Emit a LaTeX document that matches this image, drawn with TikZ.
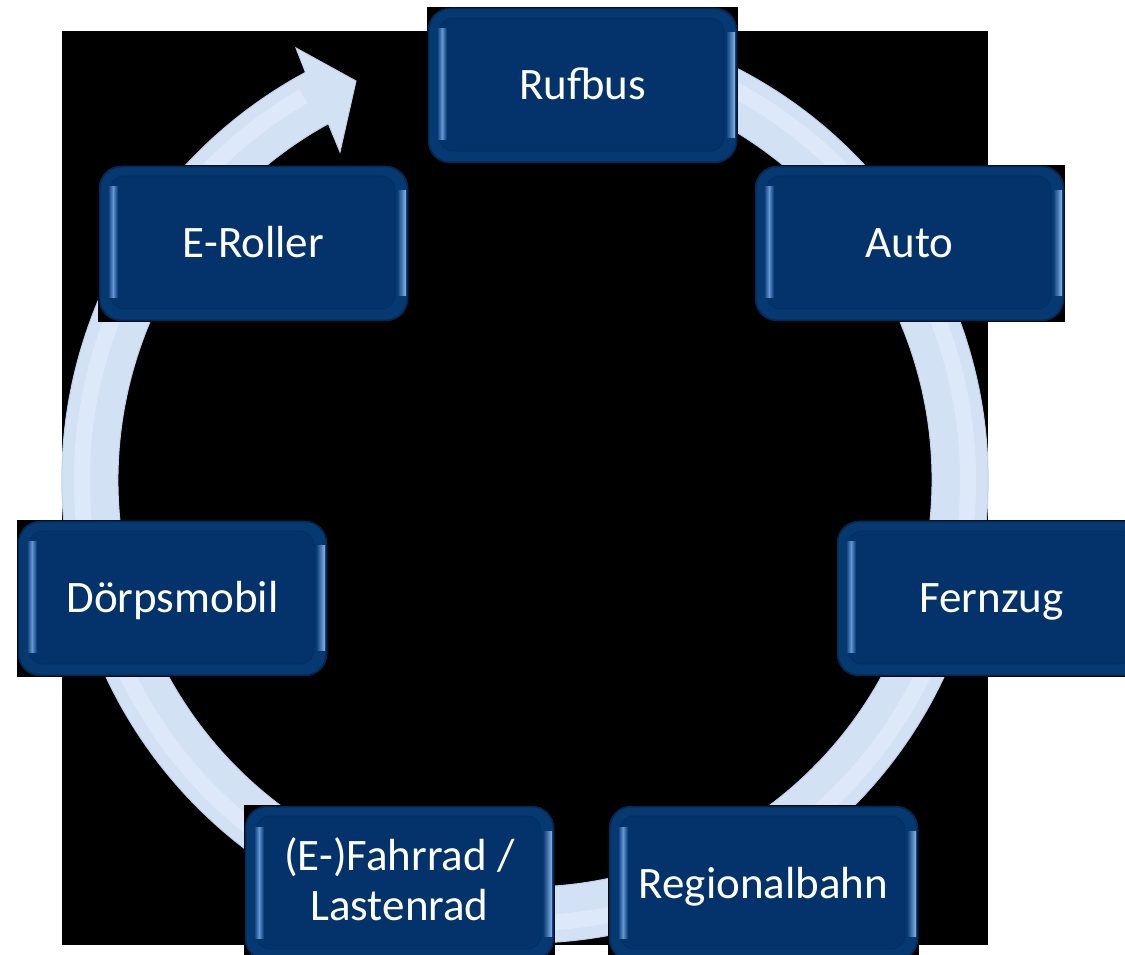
\documentclass[tikz,border=0pt]{standalone}
\usepackage{fontspec}
\setmainfont{Carlito}
\usetikzlibrary{calc}
\definecolor{navy}{HTML}{03336A}
\definecolor{navyrim}{HTML}{063872}
\definecolor{navyedge}{HTML}{02284F}
\definecolor{innerline}{HTML}{032E5E}
\definecolor{hlleft}{HTML}{6597D6}
\definecolor{hlright}{HTML}{8AB7EC}
\definecolor{ringfill}{HTML}{D3E1F4}
\definecolor{ringedge}{HTML}{BFD0EA}
\definecolor{ringlight}{HTML}{E2ECFA}
\newcommand{\boxfont}{\fontsize{45pt}{50pt}\selectfont}
\tikzset{
  modebox/.style={rectangle, minimum width=311pt, minimum height=157pt,
    inner sep=0pt, outer sep=0pt, fill=black, text=white, font=\boxfont,
    align=center, text height=29pt, text depth=0pt,
    path picture={
      \fill[navyrim, rounded corners=22pt]
        ([shift={(1pt,1pt)}]path picture bounding box.south west) rectangle
        ([shift={(-1pt,-1pt)}]path picture bounding box.north east);
      \fill[navy, rounded corners=14pt]
        ([shift={(12pt,13pt)}]path picture bounding box.south west) rectangle
        ([shift={(-14pt,-11pt)}]path picture bounding box.north east);
      \draw[innerline, line width=0.8pt, rounded corners=14pt]
        ([shift={(12pt,13pt)}]path picture bounding box.south west) rectangle
        ([shift={(-14pt,-11pt)}]path picture bounding box.north east);
      \shade[left color=navyrim, right color=navy, middle color=hlleft]
        ([shift={(10pt,24pt)}]path picture bounding box.south west) rectangle
        ([shift={(20pt,-22pt)}]path picture bounding box.north west);
      \shade[left color=navyrim, right color=hlright]
        ([shift={(-12pt,26pt)}]path picture bounding box.south east) rectangle
        ([shift={(-3pt,-26pt)}]path picture bounding box.north east);
      \draw[navyedge, line width=1.5pt, rounded corners=22pt]
        ([shift={(1.5pt,1.5pt)}]path picture bounding box.south west) rectangle
        ([shift={(-1.5pt,-1.5pt)}]path picture bounding box.north east);
    }},
  twoline/.style={modebox, text height=73pt, text depth=0pt},
  ringarrow/.style={fill=ringfill, draw=ringedge, line width=1pt},
  mainbg/.style={fill=black}
}
\begin{document}
\begin{tikzpicture}[x=1pt,y=1pt]
\clip (0,0) rectangle (1125,954);
\fill[white] (0,0) rectangle (1125,954);
\fill[mainbg] (62,9) rectangle (988,923);
\coordinate (c) at (525,474);
% circular arrow
\filldraw[ringarrow] ($(c)+(70:463)$) arc[start angle=70, end angle=-241.7, radius=463]
  -- (296,906) -- (356,873) -- (340,802)
  -- ($(c)+(-241.1:407)$) arc[start angle=-241.1, end angle=70, radius=407] -- cycle;
\draw[ringlight, line width=16pt, opacity=0.7] ($(c)+(68:443)$) arc[start angle=68, end angle=-240, radius=443];
% boxes
\node[modebox] (rufbus) at (582.5,868.5) {Rufbus};
\node[modebox] (auto) at (909.5,710.5) {Auto};
\node[modebox] (fernzug) at (991.5,355.5) {Fernzug};
\node[modebox] (regio) at (763.5,70.5) {Regionalbahn};
\node[twoline] (fahrrad) at (399.5,70.5) {(E-)Fahrrad /\\Lastenrad};
\node[modebox] (doerps) at (172.5,355.5) {Dörpsmobil};
\node[modebox] (eroller) at (253.5,710.5) {E-Roller};
\end{tikzpicture}
\end{document}
